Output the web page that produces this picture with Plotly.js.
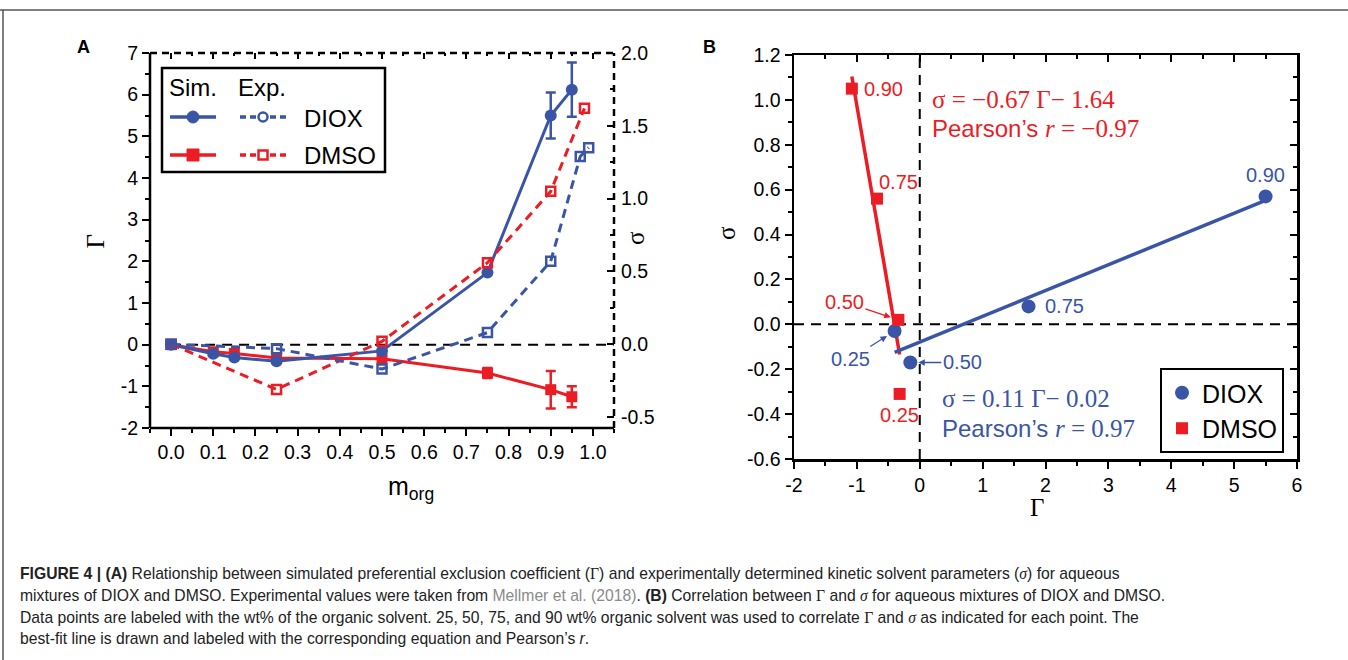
<!DOCTYPE html>
<html>
<head>
<meta charset="utf-8">
<script src="https://cdn.plot.ly/plotly-3.0.1.min.js"></script>
<style>
  html, body { margin: 0; padding: 0; background: #fff; }
  #chart { width: 1348px; height: 660px; }
</style>
</head>
<body>
<div id="chart"></div>
<script>
// ---------------- DATA ----------------
// Panel A: simulated preferential exclusion coefficient (Gamma) vs m_org
const mSim = [0, 0.10, 0.15, 0.25, 0.50, 0.75, 0.90, 0.95];
const gammaDIOX = [0, -0.22, -0.31, -0.40, -0.15, 1.73, 5.50, 6.12];
const gammaDIOXErr = [0, 0, 0, 0, 0, 0, 0.55, 0.65];
const gammaDMSO = [0, -0.17, -0.21, -0.32, -0.34, -0.68, -1.08, -1.25];
const gammaDMSOErr = [0, 0, 0, 0, 0, 0.12, 0.45, 0.25];

// Panel A: experimental kinetic solvent parameter (sigma) vs m_org
const mExpDIOX = [0, 0.25, 0.50, 0.75, 0.90, 0.97, 0.99];
const sigmaDIOX = [0, -0.03, -0.17, 0.08, 0.57, 1.29, 1.35];
const mExpDMSO = [0, 0.25, 0.50, 0.75, 0.90, 0.98];
const sigmaDMSO = [0, -0.31, 0.02, 0.56, 1.05, 1.62];

// Panel B: correlated compositions (wt% organic solvent)
const corrM = [0.25, 0.50, 0.75, 0.90];
const corrLabels = ["0.25", "0.50", "0.75", "0.90"];

// Tick values
const tickA_x = [0, 0.1, 0.2, 0.3, 0.4, 0.5, 0.6, 0.7, 0.8, 0.9, 1.0];
const tickA_y = [-2, -1, 0, 1, 2, 3, 4, 5, 6, 7];
const tickA_y2 = [-0.5, 0, 0.5, 1.0, 1.5, 2.0];
const tickB_x = [-2, -1, 0, 1, 2, 3, 4, 5, 6];
const tickB_y = [-0.6, -0.4, -0.2, 0, 0.2, 0.4, 0.6, 0.8, 1.0, 1.2];

// ---------------- STYLE ----------------
const BLUE = '#3a55a5';
const RED = '#ec1c24';
const W = 1348, H = 660;
const px = v => v / W;
const py = v => 1 - v / H;
const SANS = 'Liberation Sans, Arial, sans-serif';
const SERIF = 'Liberation Serif, Times New Roman, serif';

// ---------------- DERIVED (panel B) ----------------
function pick(mArr, vArr, m) { return vArr[mArr.indexOf(m)]; }
const bGammaDIOX = corrM.map(m => pick(mSim, gammaDIOX, m));
const bGammaDMSO = corrM.map(m => pick(mSim, gammaDMSO, m));
const bSigmaDIOX = corrM.map(m => pick(mExpDIOX, sigmaDIOX, m));
const bSigmaDMSO = corrM.map(m => pick(mExpDMSO, sigmaDMSO, m));

function fit(xs, ys) {
  const n = xs.length;
  const mx = xs.reduce((a, b) => a + b, 0) / n;
  const my = ys.reduce((a, b) => a + b, 0) / n;
  let sxy = 0, sxx = 0;
  for (let i = 0; i < n; i++) { sxy += (xs[i] - mx) * (ys[i] - my); sxx += (xs[i] - mx) ** 2; }
  const slope = sxy / sxx, icpt = my - slope * mx;
  const x0 = Math.min(...xs), x1 = Math.max(...xs);
  return { x: [x0, x1], y: [slope * x0 + icpt, slope * x1 + icpt] };
}
const fitDIOX = fit(bGammaDIOX, bSigmaDIOX);
const fitDMSO = fit(bGammaDMSO, bSigmaDMSO);

// ---------------- TRACES ----------------
const traces = [
  // Panel A experimental (right axis)
  { x: mExpDMSO, y: sigmaDMSO, xaxis: 'x', yaxis: 'y2', type: 'scatter', mode: 'lines+markers',
    line: { color: RED, width: 3, dash: '9px,6px' },
    marker: { symbol: 'square-open', size: 9, color: RED, line: { width: 2.5, color: RED } }, showlegend: false },
  { x: mExpDIOX, y: sigmaDIOX, xaxis: 'x', yaxis: 'y2', type: 'scatter', mode: 'lines+markers',
    line: { color: BLUE, width: 3, dash: '9px,6px' },
    marker: { symbol: 'square-open', size: 9, color: BLUE, line: { width: 2.5, color: BLUE } }, showlegend: false },
  // Panel A simulated (left axis)
  { x: mSim, y: gammaDMSO, xaxis: 'x', yaxis: 'y', type: 'scatter', mode: 'lines+markers',
    line: { color: RED, width: 3 },
    marker: { symbol: 'square', size: 11, color: RED },
    error_y: { type: 'data', array: gammaDMSOErr, visible: true, color: RED, thickness: 2.5, width: 5 },
    showlegend: false },
  { x: mSim, y: gammaDIOX, xaxis: 'x', yaxis: 'y', type: 'scatter', mode: 'lines+markers',
    line: { color: BLUE, width: 3 },
    marker: { symbol: 'circle', size: 12, color: BLUE },
    error_y: { type: 'data', array: gammaDIOXErr, visible: true, color: BLUE, thickness: 2.5, width: 5 },
    showlegend: false },
  // helper for mirrored top ticks panel A
  { x: [null], y: [null], xaxis: 'x5', yaxis: 'y', type: 'scatter', showlegend: false, hoverinfo: 'skip' },

  // Panel B fit lines
  { x: fitDMSO.x, y: fitDMSO.y, xaxis: 'x3', yaxis: 'y3', type: 'scatter', mode: 'lines',
    line: { color: RED, width: 3.5 }, showlegend: false, hoverinfo: 'skip' },
  { x: fitDIOX.x, y: fitDIOX.y, xaxis: 'x3', yaxis: 'y3', type: 'scatter', mode: 'lines',
    line: { color: BLUE, width: 3.5 }, showlegend: false, hoverinfo: 'skip' },
  // Panel B points
  { x: bGammaDIOX, y: bSigmaDIOX, xaxis: 'x3', yaxis: 'y3', type: 'scatter', mode: 'markers',
    name: 'DIOX', marker: { symbol: 'circle', size: 14, color: BLUE } },
  { x: bGammaDMSO, y: bSigmaDMSO, xaxis: 'x3', yaxis: 'y3', type: 'scatter', mode: 'markers',
    name: 'DMSO', marker: { symbol: 'square', size: 12, color: RED } },
  // helpers for inside ticks on top/right of panel B
  { x: [null], y: [null], xaxis: 'x4', yaxis: 'y3', type: 'scatter', showlegend: false, hoverinfo: 'skip' },
  { x: [null], y: [null], xaxis: 'x3', yaxis: 'y4', type: 'scatter', showlegend: false, hoverinfo: 'skip' }
];

// ---------------- AXES ----------------
const tickFont = { family: SANS, size: 19.5, color: '#000' };
const domAx = [px(150), px(614)];
const domAy = [py(428), py(53)];
const domBx = [px(794), px(1297)];
const domBy = [py(459), py(55)];

function fmt(arr, d) { return arr.map(v => v.toFixed(d)); }

const layout = {
  width: W, height: H,
  margin: { l: 0, r: 0, t: 0, b: 0 },
  paper_bgcolor: '#fff', plot_bgcolor: 'rgba(0,0,0,0)',
  showlegend: true,
  legend: {
    x: px(1160), y: py(368), xanchor: 'left', yanchor: 'top',
    bgcolor: '#fff', bordercolor: '#000', borderwidth: 2,
    font: { family: SANS, size: 25, color: '#000' },
    itemwidth: 30, tracegroupgap: 0
  },
  xaxis: {
    domain: domAx, anchor: 'y', range: [-0.05, 1.05],
    tickmode: 'array', tickvals: tickA_x, ticktext: fmt(tickA_x, 1),
    ticks: 'outside', ticklen: 7, tickwidth: 2, tickcolor: '#000',
    minor: { tickmode: 'linear', tick0: 0, dtick: 0.05, ticks: 'outside', ticklen: 4, tickwidth: 2, tickcolor: '#000' },
    showline: false, showgrid: false, zeroline: false, tickfont: tickFont, fixedrange: true
  },
  xaxis5: {
    overlaying: 'x', side: 'top', anchor: 'y', range: [-0.05, 1.05],
    tickmode: 'array', tickvals: tickA_x, showticklabels: false,
    ticks: 'inside', ticklen: 6, tickwidth: 2, tickcolor: '#000',
    minor: { tickmode: 'linear', tick0: 0, dtick: 0.05, ticks: 'inside', ticklen: 3, tickwidth: 2, tickcolor: '#000' },
    showline: false, showgrid: false, zeroline: false
  },
  yaxis: {
    domain: domAy, anchor: 'x', range: [-2, 7],
    tickmode: 'array', tickvals: tickA_y, ticktext: fmt(tickA_y, 0),
    ticks: 'outside', ticklen: 7, tickwidth: 2, tickcolor: '#000',
    minor: { tickmode: 'linear', tick0: 0, dtick: 0.5, ticks: 'outside', ticklen: 4, tickwidth: 2, tickcolor: '#000' },
    showline: false, showgrid: false, zeroline: false, tickfont: tickFont, fixedrange: true
  },
  yaxis2: {
    overlaying: 'y', side: 'right', anchor: 'x', range: [-0.575, 2.0],
    tickmode: 'array', tickvals: tickA_y2, ticktext: fmt(tickA_y2, 1),
    ticks: 'inside', ticklen: 7, tickwidth: 2, tickcolor: '#000', ticklabelstandoff: 6,
    minor: { tickmode: 'linear', tick0: 0, dtick: 0.25, ticks: 'inside', ticklen: 4, tickwidth: 2, tickcolor: '#000' },
    showline: false, showgrid: false, zeroline: false, tickfont: tickFont, fixedrange: true
  },
  xaxis3: {
    domain: domBx, anchor: 'y3', range: [-2, 6],
    tickmode: 'array', tickvals: tickB_x, ticktext: fmt(tickB_x, 0),
    ticks: 'outside', ticklen: 7, tickwidth: 2, tickcolor: '#000',
    minor: { tickmode: 'linear', tick0: 0, dtick: 0.5, ticks: 'outside', ticklen: 4, tickwidth: 2, tickcolor: '#000' },
    showline: true, linecolor: '#000', linewidth: 2.5, mirror: true,
    showgrid: false, zeroline: false, tickfont: tickFont, fixedrange: true
  },
  xaxis4: {
    overlaying: 'x3', side: 'top', anchor: 'y3', range: [-2, 6],
    tickmode: 'array', tickvals: tickB_x, showticklabels: false,
    ticks: 'inside', ticklen: 7, tickwidth: 2, tickcolor: '#000',
    minor: { tickmode: 'linear', tick0: 0, dtick: 0.5, ticks: 'inside', ticklen: 4, tickwidth: 2, tickcolor: '#000' },
    showline: false, showgrid: false, zeroline: false
  },
  yaxis3: {
    domain: domBy, anchor: 'x3', range: [-0.6, 1.2],
    tickmode: 'array', tickvals: tickB_y, ticktext: fmt(tickB_y, 1),
    ticks: 'outside', ticklen: 7, tickwidth: 2, tickcolor: '#000',
    minor: { tickmode: 'linear', tick0: 0, dtick: 0.1, ticks: 'outside', ticklen: 4, tickwidth: 2, tickcolor: '#000' },
    showline: true, linecolor: '#000', linewidth: 2.5, mirror: true,
    showgrid: false, zeroline: false, tickfont: tickFont, fixedrange: true
  },
  yaxis4: {
    overlaying: 'y3', side: 'right', anchor: 'x3', range: [-0.6, 1.2],
    tickmode: 'array', tickvals: tickB_y, showticklabels: false,
    ticks: 'inside', ticklen: 7, tickwidth: 2, tickcolor: '#000',
    minor: { tickmode: 'linear', tick0: 0, dtick: 0.1, ticks: 'inside', ticklen: 4, tickwidth: 2, tickcolor: '#000' },
    showline: false, showgrid: false, zeroline: false
  },
  shapes: [],
  annotations: []
};

const S = layout.shapes, A = layout.annotations;

// Page frame lines
S.push({ type: 'line', xref: 'paper', yref: 'paper', x0: 0, x1: 1, y0: py(10), y1: py(10), line: { color: '#555', width: 1.5 } });
S.push({ type: 'line', xref: 'paper', yref: 'paper', x0: px(3), x1: px(3), y0: py(10), y1: 0, line: { color: '#555', width: 1.5 } });

// Panel A frame: left & bottom solid, top & right dashed
S.push({ type: 'line', xref: 'x domain', yref: 'y domain', x0: 0, x1: 0, y0: 0, y1: 1, line: { color: '#000', width: 2.5 } });
S.push({ type: 'line', xref: 'x domain', yref: 'y domain', x0: 0, x1: 1, y0: 0, y1: 0, line: { color: '#000', width: 2.5 } });
S.push({ type: 'line', xref: 'x domain', yref: 'y domain', x0: 0, x1: 1, y0: 1, y1: 1, line: { color: '#000', width: 2.5, dash: '7px,5px' } });
S.push({ type: 'line', xref: 'x domain', yref: 'y domain', x0: 1, x1: 1, y0: 0, y1: 1, line: { color: '#000', width: 2.5, dash: '7px,5px' } });
// Panel A zero reference line
S.push({ type: 'line', xref: 'x', yref: 'y', x0: 0, x1: 1.05, y0: 0, y1: 0, line: { color: '#000', width: 2, dash: '10px,7px' }, layer: 'below' });

// Panel B reference lines
S.push({ type: 'line', xref: 'x3', yref: 'y3', x0: -2, x1: 6, y0: 0, y1: 0, line: { color: '#000', width: 2, dash: '10px,7px' }, layer: 'below' });
S.push({ type: 'line', xref: 'x3', yref: 'y3', x0: 0, x1: 0, y0: -0.6, y1: 1.2, line: { color: '#000', width: 2, dash: '10px,7px' }, layer: 'below' });

// Panel A custom legend
S.push({ type: 'rect', xref: 'paper', yref: 'paper', x0: px(162), x1: px(385), y0: py(172), y1: py(68), line: { color: '#000', width: 2.5 }, fillcolor: '#fff' });
function legRow(yc, color, filledSym, openSym) {
  S.push({ type: 'line', xref: 'paper', yref: 'paper', x0: px(170), x1: px(216), y0: py(yc), y1: py(yc), line: { color: color, width: 3.5 } });
  S.push({ type: 'line', xref: 'paper', yref: 'paper', x0: px(240), x1: px(288), y0: py(yc), y1: py(yc), line: { color: color, width: 3.5, dash: '6px,4px' } });
  const r = 6;
  S.push({ type: filledSym, xref: 'paper', yref: 'paper', x0: px(193 - r), x1: px(193 + r), y0: py(yc + r), y1: py(yc - r), fillcolor: color, line: { color: color, width: 1 } });
  const r2 = 4.5;
  S.push({ type: openSym, xref: 'paper', yref: 'paper', x0: px(263 - r2), x1: px(263 + r2), y0: py(yc + r2), y1: py(yc - r2), fillcolor: '#fff', line: { color: color, width: 2.5 } });
}
legRow(117, BLUE, 'circle', 'circle');
legRow(155, RED, 'rect', 'rect');
const legFont = { family: SANS, size: 24, color: '#000' };
A.push({ xref: 'paper', yref: 'paper', x: px(167), y: py(87), xanchor: 'left', yanchor: 'middle', text: 'Sim.', showarrow: false, font: legFont });
A.push({ xref: 'paper', yref: 'paper', x: px(236), y: py(87), xanchor: 'left', yanchor: 'middle', text: 'Exp.', showarrow: false, font: legFont });
A.push({ xref: 'paper', yref: 'paper', x: px(302), y: py(118), xanchor: 'left', yanchor: 'middle', text: 'DIOX', showarrow: false, font: legFont });
A.push({ xref: 'paper', yref: 'paper', x: px(302), y: py(156), xanchor: 'left', yanchor: 'middle', text: 'DMSO', showarrow: false, font: legFont });

// Panel letters
A.push({ xref: 'paper', yref: 'paper', x: px(75), y: py(35), text: '<b>A</b>', showarrow: false, font: { family: SANS, size: 18, color: '#000' } });
A.push({ xref: 'paper', yref: 'paper', x: px(709), y: py(35), text: '<b>B</b>', showarrow: false, font: { family: SANS, size: 18, color: '#000' } });

// Axis titles
A.push({ xref: 'paper', yref: 'paper', x: px(79), y: py(242), text: 'Γ', textangle: -90, showarrow: false, font: { family: SERIF, size: 25, color: '#000' } });
A.push({ xref: 'paper', yref: 'paper', x: px(635), y: py(238), text: 'σ', textangle: -90, showarrow: false, font: { family: SERIF, size: 25, color: '#000' } });
A.push({ xref: 'paper', yref: 'paper', x: px(386), y: py(506), text: 'm<sub>org</sub>', showarrow: false, font: { family: SANS, size: 25, color: '#000' } });
A.push({ xref: 'paper', yref: 'paper', x: px(726), y: py(233), text: 'σ', textangle: -90, showarrow: false, font: { family: SERIF, size: 25, color: '#000' } });
A.push({ xref: 'paper', yref: 'paper', x: px(1046), y: py(523), text: 'Γ', showarrow: false, font: { family: SERIF, size: 25, color: '#000' } });

// Panel B point labels
const lblFont = c => ({ family: SANS, size: 20, color: c });
function ptLabel(xv, yv, txt, color, opts) {
  A.push(Object.assign({ xref: 'x3', yref: 'y3', x: xv, y: yv, text: txt, showarrow: false, font: lblFont(color) }, opts));
}
// DMSO
ptLabel(bGammaDMSO[3], bSigmaDMSO[3], corrLabels[3], RED, { xanchor: 'left', xshift: 10 });
ptLabel(bGammaDMSO[2], bSigmaDMSO[2], corrLabels[2], RED, { xanchor: 'left', xshift: 0, yshift: 17 });
ptLabel(bGammaDMSO[0], bSigmaDMSO[0], corrLabels[0], RED, { yshift: -21 });
A.push({ xref: 'x3', yref: 'y3', x: bGammaDMSO[1], y: bSigmaDMSO[1], text: corrLabels[1], font: lblFont(RED),
  showarrow: true, ax: -54, ay: -18, arrowcolor: RED, arrowwidth: 1.3, arrowhead: 2, arrowsize: 1, standoff: 8 });
// DIOX
ptLabel(bGammaDIOX[3], bSigmaDIOX[3], corrLabels[3], BLUE, { yshift: 21 });
ptLabel(bGammaDIOX[2], bSigmaDIOX[2], corrLabels[2], BLUE, { xanchor: 'left', xshift: 14 });
A.push({ xref: 'x3', yref: 'y3', x: bGammaDIOX[0], y: bSigmaDIOX[0], text: corrLabels[0], font: lblFont(BLUE),
  showarrow: true, ax: -44, ay: 28, arrowcolor: BLUE, arrowwidth: 1.3, arrowhead: 2, arrowsize: 1, standoff: 9 });
A.push({ xref: 'x3', yref: 'y3', x: bGammaDIOX[1], y: bSigmaDIOX[1], text: corrLabels[1], font: lblFont(BLUE),
  showarrow: true, ax: 52, ay: 0, arrowcolor: BLUE, arrowwidth: 1.3, arrowhead: 2, arrowsize: 1, standoff: 8 });

// Panel B equations
function eq(x, y, color, l1, l2, gap) {
  const f = { family: SERIF, size: 25, color: color };
  A.push({ xref: 'paper', yref: 'paper', x: px(x), y: py(y), xanchor: 'left', yanchor: 'middle', text: l1, showarrow: false, font: f });
  A.push({ xref: 'paper', yref: 'paper', x: px(x), y: py(y + gap), xanchor: 'left', yanchor: 'middle', text: l2, showarrow: false, font: f });
}
const pear = v => "<span style='font-family:Liberation Sans, Arial, sans-serif;font-size:24px'>Pearson’s </span><i>r</i> = " + v;
eq(930, 100, RED, 'σ = −0.67 Γ− 1.64', pear('−0.97'), 28);
eq(940, 398, BLUE, 'σ = 0.11 Γ− 0.02', pear('0.97'), 30);

// Caption
const capFont = { family: 'Liberation Sans Narrow, Liberation Sans, Arial, sans-serif', size: 15.7, color: '#222' };
const G = "<span style='font-family:Liberation Serif, serif'>Γ</span>";
const sg = "<span style='font-family:Liberation Serif, serif'><i>σ</i></span>";
const capLines = [
  "<b>FIGURE 4 | (A)</b> Relationship between simulated preferential exclusion coefficient (" + G + ") and experimentally determined kinetic solvent parameters (" + sg + ") for aqueous",
  "mixtures of DIOX and DMSO. Experimental values were taken from <span style='color:#8a8a8a'>Mellmer et al. (2018)</span>. <b>(B)</b> Correlation between " + G + " and " + sg + " for aqueous mixtures of DIOX and DMSO.",
  "Data points are labeled with the wt% of the organic solvent. 25, 50, 75, and 90 wt% organic solvent was used to correlate " + G + " and " + sg + " as indicated for each point. The",
  "best-fit line is drawn and labeled with the corresponding equation and Pearson’s <i>r</i>."
];
const capY = [573, 595, 617, 638];
capLines.forEach((t, i) => {
  A.push({ xref: 'paper', yref: 'paper', x: px(18), y: py(capY[i]), xanchor: 'left', yanchor: 'middle', text: t, showarrow: false, font: capFont });
});

Plotly.newPlot('chart', traces, layout, { displayModeBar: false, staticPlot: true });
</script>
</body>
</html>
